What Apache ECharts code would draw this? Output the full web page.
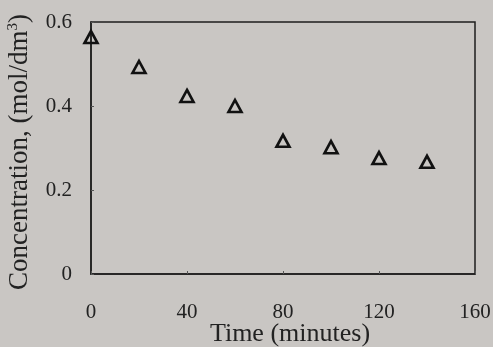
<!DOCTYPE html>
<html><head><meta charset="utf-8">
<script src="https://cdn.jsdelivr.net/npm/echarts@6/dist/echarts.min.js"></script>
<style>html,body{margin:0;padding:0;background:#c9c6c3;}#c{width:493px;height:347px;}</style>
</head><body><div id="c"></div>
<script>
const timeMin = [0, 20, 40, 60, 80, 100, 120, 140];
const concentration = [0.564, 0.493, 0.424, 0.400, 0.317, 0.302, 0.276, 0.267];
const xTicks = [0, 40, 80, 120, 160];
const yTicks = [0, 0.2, 0.4, 0.6];

const chart = echarts.init(document.getElementById('c'));
const font = '"Liberation Serif", "DejaVu Serif", serif';
chart.setOption({
  backgroundColor: '#c9c6c3',
  animation: false,
  grid: {left: 91, top: 22, right: 18, bottom: 73, outerBoundsMode: 'none', containLabel: false,
    show: true, borderColor: '#1e1e1e', borderWidth: 1.5, backgroundColor: 'transparent'},
  xAxis: {
    type: 'value', min: 0, max: 160, interval: 40,
    name: 'Time (minutes)', nameLocation: 'middle', nameGap: 47, nameMoveOverlap: false,
    nameTextStyle: {fontFamily: font, fontSize: 26, color: '#222', padding: [0, 0, 0, 14]},
    axisLine: {show: true, lineStyle: {color: '#1e1e1e', width: 1.5}},
    axisTick: {show: true, inside: true, length: 3, lineStyle: {color: '#555'}},
    axisLabel: {fontFamily: font, fontSize: 21, color: '#222', margin: 28,
      formatter: v => xTicks.includes(v) ? String(v) : ''},
    splitLine: {show: false}
  },
  yAxis: {
    type: 'value', min: 0, max: 0.6, interval: 0.2,
    name: 'Concentration, (mol/dm{sup|3})', nameLocation: 'middle', nameGap: 58, nameMoveOverlap: false,
    nameTextStyle: {fontFamily: font, fontSize: 27, color: '#222', padding: [0, 8, 0, 0],
      rich: {sup: {fontFamily: font, fontSize: 15, color: '#222', verticalAlign: 'top', padding: [0, 0, 10, 0]}}},
    axisLine: {show: true, lineStyle: {color: '#1e1e1e', width: 1.5}},
    axisTick: {show: true, inside: true, length: 3, lineStyle: {color: '#555'}},
    axisLabel: {fontFamily: font, fontSize: 21, color: '#222', margin: 19,
      formatter: v => { const t = yTicks.find(y => Math.abs(y - v) < 1e-9); return t === undefined ? '' : (t === 0 ? '0' : t.toFixed(1)); }},
    splitLine: {show: false}
  },
  series: [{
    type: 'scatter',
    data: timeMin.map((t, i) => [t, concentration[i]]),
    symbol: 'triangle', symbolSize: [13, 12],
    itemStyle: {color: 'rgba(0,0,0,0)', borderColor: '#111', borderWidth: 2.6, opacity: 1}
  }]
});
</script></body></html>
